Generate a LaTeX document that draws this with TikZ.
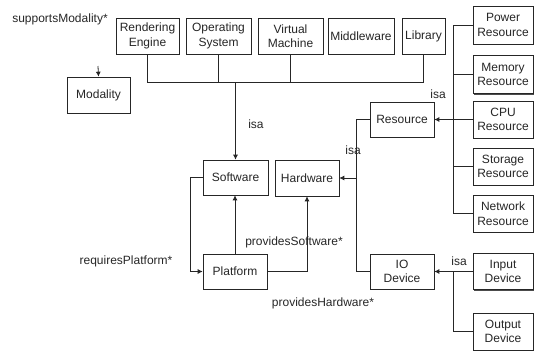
\documentclass[tikz,border=0pt]{standalone}
\usepackage{fontspec}
\setmainfont{Liberation Sans}
\usetikzlibrary{arrows.meta,shadows}
\begin{document}
\begin{tikzpicture}[x=1pt,y=-1pt,
  every node/.style={font=\fontsize{12}{14.5}\selectfont, text=black!85},
  box/.style={draw=black!85, line width=0.6pt, fill=white, align=center, inner sep=0pt,
    drop shadow={shadow xshift=1.2pt, shadow yshift=-1.2pt, fill=black!70, opacity=1}},
  conn/.style={draw=black!85, line width=0.8pt},
  arr/.style={conn, -{Latex[length=5pt,width=5pt]}},
  lbl/.style={inner sep=0pt}]
\useasboundingbox (0,0) rectangle (534,351);
% top row
\node[box, minimum width=63, minimum height=36] (rend) at (147.5,36) {Rendering\\Engine};
\node[box, minimum width=65, minimum height=36] (os) at (218.5,36) {Operating\\System};
\node[box, minimum width=65, minimum height=36] (vm) at (290.5,36) {Virtual\\Machine};
\node[box, minimum width=66, minimum height=36] (mid) at (361,36) {Middleware};
\node[box, minimum width=43, minimum height=36] (lib) at (423.5,36) {Library};
% right column
\node[box, minimum width=60, minimum height=38] (power) at (503,25) {Power\\Resource};
\node[box, minimum width=60, minimum height=38] (memory) at (503,74.5) {Memory\\Resource};
\node[box, minimum width=60, minimum height=37] (cpu) at (503,119.5) {CPU\\Resource};
\node[box, minimum width=60, minimum height=37] (storage) at (503,166.5) {Storage\\Resource};
\node[box, minimum width=60, minimum height=37] (network) at (503,213.5) {Network\\Resource};
\node[box, minimum width=60, minimum height=36] (input) at (503,271.5) {Input\\Device};
\node[box, minimum width=60, minimum height=37] (output) at (503,331.5) {Output\\Device};
% middle
\node[box, minimum width=64, minimum height=35] (resource) at (402,119.5) {Resource};
\node[box, minimum width=64, minimum height=35] (io) at (402,271.5) {IO\\Device};
\node[box, minimum width=63, minimum height=36] (modality) at (98.5,95) {Modality};
\node[box, minimum width=65, minimum height=35] (software) at (235.5,177.5) {Software};
\node[box, minimum width=64, minimum height=36] (hardware) at (307,178) {Hardware};
\node[box, minimum width=64, minimum height=35] (platform) at (235,271.5) {Platform};
% coordinates
\coordinate (topbus) at (0,82);
\coordinate (rbus) at (453,0);
\coordinate (lbus) at (356,0);
\coordinate (hw) at (356,178);
\coordinate (reqx) at (190,0);
\coordinate (phx) at (307,0);
\coordinate (sm) at (98,66);
% top group isa
\draw[conn] (rend.south) |- (lib.south |- topbus) -- (lib.south);
\draw[conn] (os.south) -- (os.south |- topbus);
\draw[conn] (vm.south) -- (vm.south |- topbus);
\draw[arr] (software.north |- topbus) -- (software.north);
\node[lbl] (isa1) at (256,124) {isa};
% supportsModality
\node[lbl] (smlbl) at (60,19) {supportsModality*};
\draw[arr] (sm) -- (modality.north);
% resource bus
\draw[conn] (power.west) -- (power.west -| rbus) -- (network.west -| rbus) -- (network.west);
\draw[conn] (memory.west) -- (memory.west -| rbus);
\draw[conn] (storage.west) -- (storage.west -| rbus);
\draw[arr] (cpu.west) -- (resource.east);
\node[lbl] (isa2) at (438,94) {isa};
% hardware isa
\draw[conn] (resource.west) -- (resource.west -| lbus) -- (io.west -| lbus) -- (io.west);
\draw[arr] (hw) -- (hardware.east);
\node[lbl] (isa3) at (353,150) {isa};
% io isa
\draw[arr] (input.west) -- (io.east);
\draw[conn] (input.west -| rbus) |- (output.west);
\node[lbl] (isa4) at (459,261) {isa};
% software/platform
\draw[arr] (software.west) -- (software.west -| reqx) -- (platform.west -| reqx) -- (platform.west);
\node[lbl] (req) at (126,261) {requiresPlatform*};
\draw[arr] (platform.north) -- (platform.north |- software.south);
\node[lbl] (ps) at (294,242) {providesSoftware*};
\draw[arr] (platform.east) -- (platform.east -| phx) -- (hardware.south);
\node[lbl] (ph) at (323,303) {providesHardware*};
\end{tikzpicture}
\end{document}
